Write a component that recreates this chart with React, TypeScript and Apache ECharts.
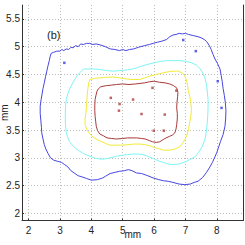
import React, { useEffect, useRef } from "react";
import * as echarts from "echarts";

const xTicks = [2, 3, 4, 5, 6, 7, 8];
const yTicks = [2, 2.5, 3, 3.5, 4, 4.5, 5, 5.5];

const blueContour = [
  [2.72,4.88],[2.8,4.9],[2.9,4.92],[3.0,4.92],[3.06,4.95],[3.12,4.93],[3.2,4.96],[3.28,4.95],[3.35,4.99],[3.42,4.98],[3.5,5.02],[3.58,5.0],[3.66,5.05],[3.75,5.04],[3.85,5.06],[3.95,5.06],[4.05,5.04],[4.15,5.05],[4.3,5.03],[4.45,5.0],[4.6,4.96],[4.75,4.95],[4.9,4.93],[5.0,4.95],[5.1,4.93],[5.22,4.95],[5.35,4.96],[5.5,4.99],[5.7,5.02],[5.85,5.04],[5.97,5.06],[6.1,5.08],[6.25,5.1],[6.4,5.13],[6.5,5.18],[6.6,5.21],[6.7,5.22],[6.8,5.24],[6.9,5.23],[7.0,5.24],[7.1,5.22],[7.25,5.2],[7.4,5.18],[7.5,5.16],[7.6,5.13],[7.68,5.09],[7.76,5.02],[7.82,4.95],[7.88,4.86],[7.94,4.78],[8.02,4.7],[8.1,4.6],[8.14,4.48],[8.17,4.38],[8.2,4.25],[8.24,4.12],[8.27,4.0],[8.29,3.85],[8.28,3.7],[8.26,3.57],[8.2,3.42],[8.12,3.3],[8.06,3.2],[8.0,3.1],[7.94,3.02],[7.86,2.92],[7.76,2.82],[7.67,2.74],[7.55,2.65],[7.4,2.58],[7.28,2.56],[7.15,2.53],[6.98,2.52],[6.8,2.53],[6.6,2.56],[6.45,2.58],[6.3,2.59],[6.15,2.61],[5.97,2.64],[5.8,2.68],[5.6,2.72],[5.44,2.73],[5.3,2.77],[5.18,2.79],[5.05,2.77],[4.9,2.76],[4.75,2.74],[4.6,2.72],[4.45,2.67],[4.36,2.64],[4.2,2.61],[4.0,2.6],[3.85,2.63],[3.7,2.66],[3.58,2.68],[3.45,2.73],[3.35,2.77],[3.25,2.84],[3.15,2.88],[3.05,2.92],[2.92,2.94],[2.8,2.96],[2.7,3.0],[2.62,3.08],[2.55,3.16],[2.5,3.24],[2.46,3.34],[2.42,3.45],[2.41,3.55],[2.39,3.68],[2.37,3.8],[2.37,3.93],[2.4,4.05],[2.43,4.15],[2.46,4.25],[2.5,4.35],[2.54,4.46],[2.58,4.56],[2.62,4.66],[2.66,4.75],[2.69,4.83],[2.72,4.88]
];

const cyanContour = [
  [3.75,4.6],[3.9,4.6],[4.05,4.6],[4.27,4.59],[4.5,4.57],[4.7,4.56],[4.9,4.57],[5.1,4.58],[5.33,4.6],[5.5,4.63],[5.65,4.66],[5.85,4.69],[6.07,4.72],[6.25,4.74],[6.4,4.75],[6.6,4.75],[6.8,4.75],[7.0,4.74],[7.19,4.71],[7.35,4.67],[7.46,4.61],[7.55,4.53],[7.62,4.44],[7.67,4.32],[7.7,4.18],[7.72,4.05],[7.72,3.9],[7.71,3.75],[7.69,3.6],[7.66,3.45],[7.62,3.33],[7.53,3.2],[7.42,3.1],[7.3,3.02],[7.14,2.97],[6.95,2.92],[6.78,2.89],[6.61,2.88],[6.45,2.89],[6.29,2.92],[6.12,2.95],[5.97,2.99],[5.8,3.03],[5.65,3.06],[5.48,3.07],[5.33,3.07],[5.15,3.06],[5.0,3.05],[4.8,3.03],[4.59,3.0],[4.4,2.98],[4.27,2.98],[4.1,3.0],[3.95,3.03],[3.78,3.07],[3.63,3.12],[3.5,3.17],[3.41,3.22],[3.3,3.3],[3.24,3.38],[3.2,3.47],[3.18,3.57],[3.17,3.68],[3.17,3.81],[3.18,3.93],[3.2,4.05],[3.25,4.15],[3.31,4.24],[3.39,4.33],[3.47,4.41],[3.55,4.48],[3.63,4.53],[3.75,4.6]
];

const yellowContour = [
  [3.95,4.41],[4.1,4.43],[4.27,4.44],[4.48,4.45],[4.69,4.455],[4.9,4.44],[5.12,4.42],[5.33,4.41],[5.54,4.41],[5.7,4.44],[5.86,4.47],[6.07,4.5],[6.29,4.53],[6.45,4.55],[6.61,4.56],[6.78,4.56],[6.9,4.53],[6.98,4.47],[7.03,4.4],[7.07,4.3],[7.09,4.2],[7.14,4.1],[7.17,4.0],[7.19,3.87],[7.17,3.75],[7.14,3.65],[7.1,3.53],[7.06,3.43],[7.0,3.35],[6.93,3.28],[6.82,3.2],[6.66,3.16],[6.5,3.14],[6.3,3.14],[6.18,3.16],[6.0,3.19],[5.86,3.22],[5.7,3.24],[5.54,3.25],[5.35,3.25],[5.2,3.24],[5.0,3.23],[4.8,3.23],[4.59,3.23],[4.45,3.26],[4.3,3.3],[4.15,3.34],[4.02,3.39],[3.92,3.45],[3.85,3.52],[3.8,3.6],[3.8,3.7],[3.83,3.82],[3.85,3.95],[3.86,4.05],[3.87,4.15],[3.89,4.25],[3.92,4.35],[3.95,4.41]
];

const redContour = [
  [4.22,4.24],[4.3,4.28],[4.48,4.3],[4.65,4.31],[4.8,4.32],[5.0,4.33],[5.2,4.32],[5.4,4.33],[5.55,4.34],[5.7,4.35],[5.86,4.37],[6.0,4.38],[6.18,4.36],[6.35,4.35],[6.5,4.33],[6.62,4.3],[6.72,4.26],[6.76,4.18],[6.75,4.1],[6.73,4.0],[6.72,3.9],[6.74,3.8],[6.74,3.7],[6.72,3.6],[6.7,3.52],[6.66,3.45],[6.58,3.41],[6.5,3.39],[6.38,3.36],[6.29,3.33],[6.18,3.29],[6.07,3.28],[5.95,3.29],[5.86,3.31],[5.72,3.34],[5.6,3.35],[5.45,3.36],[5.33,3.36],[5.15,3.36],[5.0,3.35],[4.8,3.34],[4.65,3.35],[4.5,3.36],[4.38,3.4],[4.27,3.43],[4.2,3.49],[4.16,3.56],[4.14,3.65],[4.12,3.75],[4.11,3.85],[4.11,3.95],[4.12,4.05],[4.15,4.13],[4.18,4.2],[4.22,4.24]
];

const redDots = [
  [4.62,4.08],[4.9,3.97],[4.88,3.85],[5.33,4.05],[5.6,3.79],[5.95,4.26],[6.34,3.78],[5.99,3.49],[6.31,3.49],[6.71,4.21]
];

const blueDots = [
  [3.14,4.71],[6.93,5.12],[7.33,4.92],[8.03,4.38],[8.15,3.9]
];

const FONT = "Liberation Sans";

export default function App() {
  const ref = useRef<HTMLDivElement>(null);
  useEffect(() => {
    document.body.style.margin = "0";
    if (!ref.current) return;
    const chart = echarts.init(ref.current, null, { renderer: "svg" });
    const lineSeries = (data: number[][], color: string) => ({
      type: "line",
      data,
      showSymbol: false,
      symbol: "none",
      smooth: false,
      lineStyle: { color, width: 1 },
      z: 3,
    });
    chart.setOption({
      animation: false,
      backgroundColor: "#ffffff",
      grid: { left: 22, top: 5, right: 1.5, bottom: 24.5, containLabel: false, outerBoundsMode: "none" },
      xAxis: {
        type: "value",
        min: 1.79,
        max: 8.85,
        name: "mm",
        nameLocation: "middle",
        nameGap: 9,
        nameMoveOverlap: false,
        nameTextStyle: { fontFamily: FONT, fontSize: 10, color: "#222" },
        axisLine: { show: true, onZero: false, lineStyle: { color: "#333", width: 1 } },
        axisTick: { show: true, inside: true, length: 2, customValues: xTicks, lineStyle: { color: "#333" } },
        axisLabel: { customValues: xTicks, fontFamily: FONT, fontSize: 10, color: "#222", margin: 5 },
        splitLine: { show: true, lineStyle: { color: "#bbbbbb", type: [1, 2], width: 1 } },
      },
      yAxis: [
        {
          type: "value",
          min: 1.875,
          max: 5.75,
          name: "mm",
          nameLocation: "middle",
          nameGap: 13,
          nameMoveOverlap: false,
          nameTextStyle: { fontFamily: FONT, fontSize: 10, color: "#222" },
          axisLine: { show: true, onZero: false, lineStyle: { color: "#333", width: 1 } },
          axisTick: { show: true, inside: true, length: 2, customValues: yTicks, lineStyle: { color: "#333" } },
          axisLabel: { customValues: yTicks, fontFamily: FONT, fontSize: 10, color: "#222", margin: 2 },
          splitLine: { show: true, lineStyle: { color: "#bbbbbb", type: [1, 2], width: 1 } },
        },
        {
          type: "value",
          min: 1.875,
          max: 5.75,
          position: "right",
          axisLine: { show: true, onZero: false, lineStyle: { color: "#333", width: 1 } },
          axisTick: { show: false },
          axisLabel: { show: false },
          splitLine: { show: false },
        },
      ],
      series: [
        lineSeries(blueContour, "#4646e0"),
        lineSeries(cyanContour, "#80f4f4"),
        lineSeries(yellowContour, "#f2ea38"),
        lineSeries(redContour, "#a83a3a"),
        {
          type: "scatter",
          data: redDots,
          symbol: "rect",
          symbolSize: 2.5,
          itemStyle: { color: "#b03c3c" },
          z: 4,
        },
        {
          type: "scatter",
          data: blueDots,
          symbol: "rect",
          symbolSize: 2.5,
          itemStyle: { color: "#3c3ce0" },
          z: 4,
        },
      ],
      graphic: [
        {
          type: "text",
          left: 47,
          top: 29,
          style: { text: "(b)", fontFamily: FONT, fontSize: 11, fill: "#222" },
        },
      ],
    });
    return () => chart.dispose();
  }, []);
  return <div ref={ref} style={{ width: 245, height: 245 }} />;
}
